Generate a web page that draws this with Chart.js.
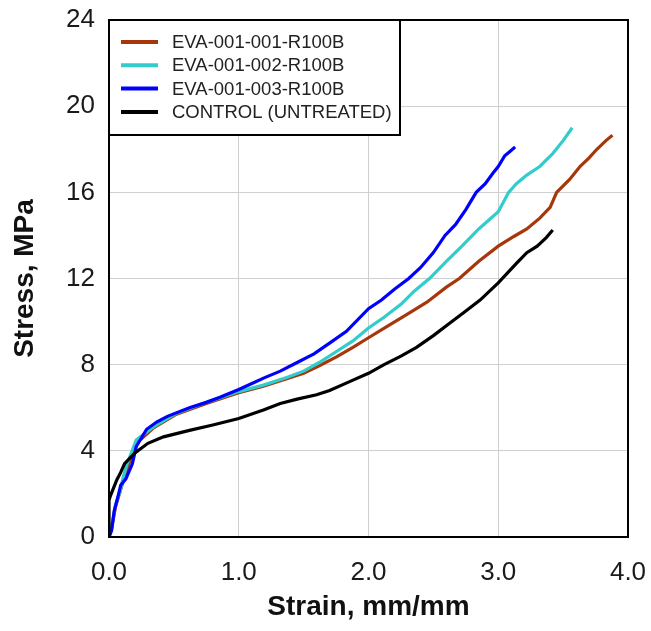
<!DOCTYPE html>
<html>
<head>
<meta charset="utf-8">
<script src="https://cdn.jsdelivr.net/npm/chart.js@4/dist/chart.umd.min.js"></script>
<style>
  html, body { margin: 0; padding: 0; background: #fff; }
  #wrap { position: relative; width: 651px; height: 631px; }
</style>
</head>
<body>
<div id="wrap"><canvas id="c" width="651" height="631"></canvas></div>
<script>
// ---- Data ----
const seriesLabels = ["EVA-001-001-R100B", "EVA-001-002-R100B", "EVA-001-003-R100B", "CONTROL (UNTREATED)"];
const seriesColors = ["#A5370B", "#33CCCC", "#0000FF", "#000000"];

const strain001 = [0, 0.02, 0.05, 0.09, 0.12, 0.16, 0.22, 0.34, 0.52, 0.75, 1.0, 1.19, 1.37, 1.5, 1.62, 1.75, 1.88, 2.0, 2.15, 2.3, 2.45, 2.6, 2.7, 2.85, 3.0, 3.12, 3.22, 3.32, 3.4, 3.45, 3.55, 3.63, 3.7, 3.76, 3.83, 3.88];
const stress001 = [0, 0.4, 1.4, 2.2, 2.8, 3.5, 4.4, 5.05, 5.7, 6.2, 6.7, 7.0, 7.35, 7.6, 7.95, 8.35, 8.8, 9.25, 9.8, 10.35, 10.9, 11.6, 12.0, 12.8, 13.5, 13.95, 14.3, 14.8, 15.3, 16.0, 16.6, 17.2, 17.6, 18.0, 18.4, 18.65];

const strain002 = [0, 0.02, 0.05, 0.085, 0.11, 0.14, 0.21, 0.34, 0.52, 0.75, 1.0, 1.19, 1.37, 1.5, 1.62, 1.75, 1.88, 2.0, 2.12, 2.25, 2.35, 2.47, 2.6, 2.72, 2.85, 3.0, 3.08, 3.14, 3.22, 3.32, 3.42, 3.5, 3.57];
const stress002 = [0, 0.5, 1.5, 2.1, 2.8, 3.4, 4.5, 5.1, 5.75, 6.25, 6.75, 7.05, 7.4, 7.7, 8.1, 8.6, 9.1, 9.7, 10.2, 10.8, 11.4, 12.0, 12.8, 13.5, 14.3, 15.1, 16.0, 16.4, 16.8, 17.2, 17.8, 18.4, 19.0];

const strain003 = [0, 0.02, 0.04, 0.07, 0.09, 0.13, 0.18, 0.21, 0.29, 0.37, 0.45, 0.62, 0.75, 0.86, 1.0, 1.11, 1.2, 1.32, 1.45, 1.58, 1.7, 1.83, 2.0, 2.1, 2.2, 2.31, 2.4, 2.5, 2.59, 2.67, 2.75, 2.83, 2.9, 2.96, 3.0, 3.05, 3.09, 3.13];
const stress003 = [0, 0.3, 1.2, 1.9, 2.4, 2.7, 3.4, 4.2, 5.0, 5.35, 5.6, 6.0, 6.25, 6.5, 6.85, 7.15, 7.4, 7.7, 8.1, 8.5, 9.0, 9.55, 10.6, 11.0, 11.5, 12.0, 12.5, 13.2, 14.0, 14.5, 15.2, 16.0, 16.4, 16.9, 17.2, 17.7, 17.9, 18.1];

const strainCtl = [0, 0, 0.01, 0.03, 0.06, 0.09, 0.12, 0.2, 0.3, 0.42, 0.62, 0.8, 1.0, 1.19, 1.32, 1.45, 1.6, 1.7, 1.85, 2.0, 2.12, 2.25, 2.37, 2.5, 2.62, 2.73, 2.86, 3.0, 3.07, 3.14, 3.22, 3.3, 3.37, 3.42];
const stressCtl = [0, 1.7, 1.9, 2.2, 2.65, 3.0, 3.4, 3.9, 4.35, 4.65, 4.95, 5.2, 5.5, 5.9, 6.2, 6.4, 6.6, 6.8, 7.2, 7.6, 8.0, 8.4, 8.8, 9.35, 9.9, 10.4, 11.0, 11.8, 12.25, 12.7, 13.2, 13.5, 13.9, 14.25];

const xTicks = [0, 1, 2, 3, 4];
const yTicks = [0, 4, 8, 12, 16, 20, 24];
const xTitle = "Strain, mm/mm";
const yTitle = "Stress, MPa";

// ---- Build datasets ----
function pts(xs, ys) { return xs.map((x, i) => ({ x: x, y: ys[i] })); }
const allX = [strain001, strain002, strain003, strainCtl];
const allY = [stress001, stress002, stress003, stressCtl];
const drawOrder = [3, 2, 1, 0];
const datasets = seriesLabels.map((lab, i) => ({
  label: lab,
  data: pts(allX[i], allY[i]),
  borderColor: seriesColors[i],
  backgroundColor: seriesColors[i],
  borderWidth: 3.2,
  showLine: true,
  pointRadius: 0,
  tension: 0,
  order: drawOrder[i]
}));

const FONT = "'Liberation Sans', Arial, sans-serif";

const frameAndLegend = {
  id: 'frameAndLegend',
  afterDraw(chart) {
    const ctx = chart.ctx;
    const a = chart.chartArea;
    ctx.save();
    // plot frame
    ctx.strokeStyle = '#000';
    ctx.lineWidth = 2;
    ctx.strokeRect(a.left, a.top, a.right - a.left, a.bottom - a.top);
    // legend box
    const bx = a.left, by = a.top, bw = 291, bh = 115;
    ctx.fillStyle = '#fff';
    ctx.fillRect(bx, by, bw, bh);
    ctx.strokeRect(bx, by, bw, bh);
    ctx.font = "18.5px " + FONT;
    ctx.textBaseline = 'middle';
    ctx.textAlign = 'left';
    chart.data.datasets.forEach((ds, i) => {
      const y = by + 22 + i * 23.3;
      ctx.strokeStyle = ds.borderColor;
      ctx.lineWidth = 4;
      ctx.beginPath();
      ctx.moveTo(bx + 12, y);
      ctx.lineTo(bx + 49, y);
      ctx.stroke();
      ctx.fillStyle = '#222';
      ctx.fillText(ds.label, bx + 63, y + 1);
    });
    ctx.restore();
  }
};

new Chart(document.getElementById('c'), {
  type: 'scatter',
  data: { datasets: datasets },
  plugins: [frameAndLegend],
  options: {
    responsive: false,
    animation: false,
    layout: { padding: { top: 20, right: 23, left: 0, bottom: 0 } },
    plugins: { legend: { display: false }, tooltip: { enabled: false } },
    scales: {
      x: {
        type: 'linear',
        min: 0, max: 4,
        afterBuildTicks: s => { s.ticks = xTicks.map(v => ({ value: v })); },
        afterFit: s => { s.height = 94; s.paddingLeft = 0; s.paddingRight = 0; },
        grid: { color: '#cfcfcf', lineWidth: 1, drawTicks: false },
        border: { display: true, color: '#000', width: 2 },
        ticks: {
          padding: 20,
          color: '#1a1a1a',
          font: { family: FONT, size: 26 },
          maxRotation: 0,
          callback: v => Number(v).toFixed(1)
        },
        title: {
          display: true, text: xTitle, color: '#111',
          font: { family: FONT, size: 28, weight: 'bold' },
          padding: { top: 0, bottom: 7 }
        }
      },
      y: {
        type: 'linear',
        min: 0, max: 24,
        afterBuildTicks: s => { s.ticks = yTicks.map(v => ({ value: v })); },
        afterFit: s => { s.width = 109; s.paddingTop = 0; s.paddingBottom = 0; },
        grid: { color: '#cfcfcf', lineWidth: 1, drawTicks: false },
        border: { display: true, color: '#000', width: 2 },
        ticks: {
          padding: 14,
          color: '#1a1a1a',
          font: { family: FONT, size: 26 },
          callback: v => String(v)
        },
        title: {
          display: true, text: yTitle, color: '#111',
          font: { family: FONT, size: 28, weight: 'bold' },
          padding: { top: 8, bottom: 0 }
        }
      }
    }
  }
});
</script>
</body>
</html>
